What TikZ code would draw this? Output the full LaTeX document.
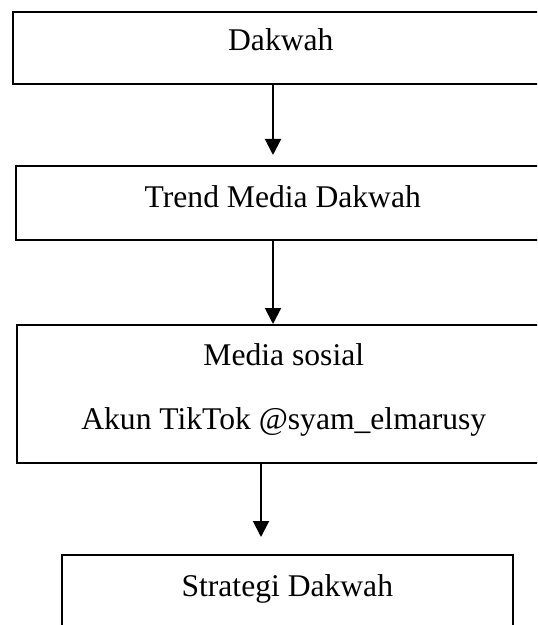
\documentclass[tikz,border=0pt]{standalone}
\usepackage{fontspec}
\setmainfont{Liberation Serif}
\usetikzlibrary{arrows.meta}
\begin{document}
\begin{tikzpicture}[x=0.5pt, y=-0.5pt,
    box/.style={draw, line width=0.8pt, inner sep=0pt, anchor=north west,
        align=center, font=\fontsize{15.8}{32}\selectfont},
    arr/.style={-{Triangle[width=8pt,length=8pt]}, line width=1pt}]
    \clip (0,0) rectangle (537,625);

    % Boxes
    \node[box, minimum width=268pt, text height=19.5pt, text depth=16.5pt] (dakwah) at (12,11) {Dakwah};
    \node[box, minimum width=267pt, text height=21pt, text depth=16pt] (trend) at (15,165) {Trend Media Dakwah};
    \node[box, minimum width=267pt, text height=52.5pt, text depth=16.5pt] (medsos) at (16,324)
        {Media sosial\\Akun TikTok @syam\_elmarusy};
    \node[box, minimum width=225.5pt, text height=21pt, text depth=22pt] (strategi) at (61,554) {Strategi Dakwah};

    % Arrows
    \coordinate (p1) at (273,0);
    \coordinate (p3) at (261,0);
    \draw[arr, shorten >=5pt] (p1 |- dakwah.south) -- (p1 |- trend.north);
    \draw[arr] (p1 |- trend.south) -- (p1 |- medsos.north);
    \draw[arr, shorten >=8.5pt] (p3 |- medsos.south) -- (p3 |- strategi.north);
\end{tikzpicture}
\end{document}
